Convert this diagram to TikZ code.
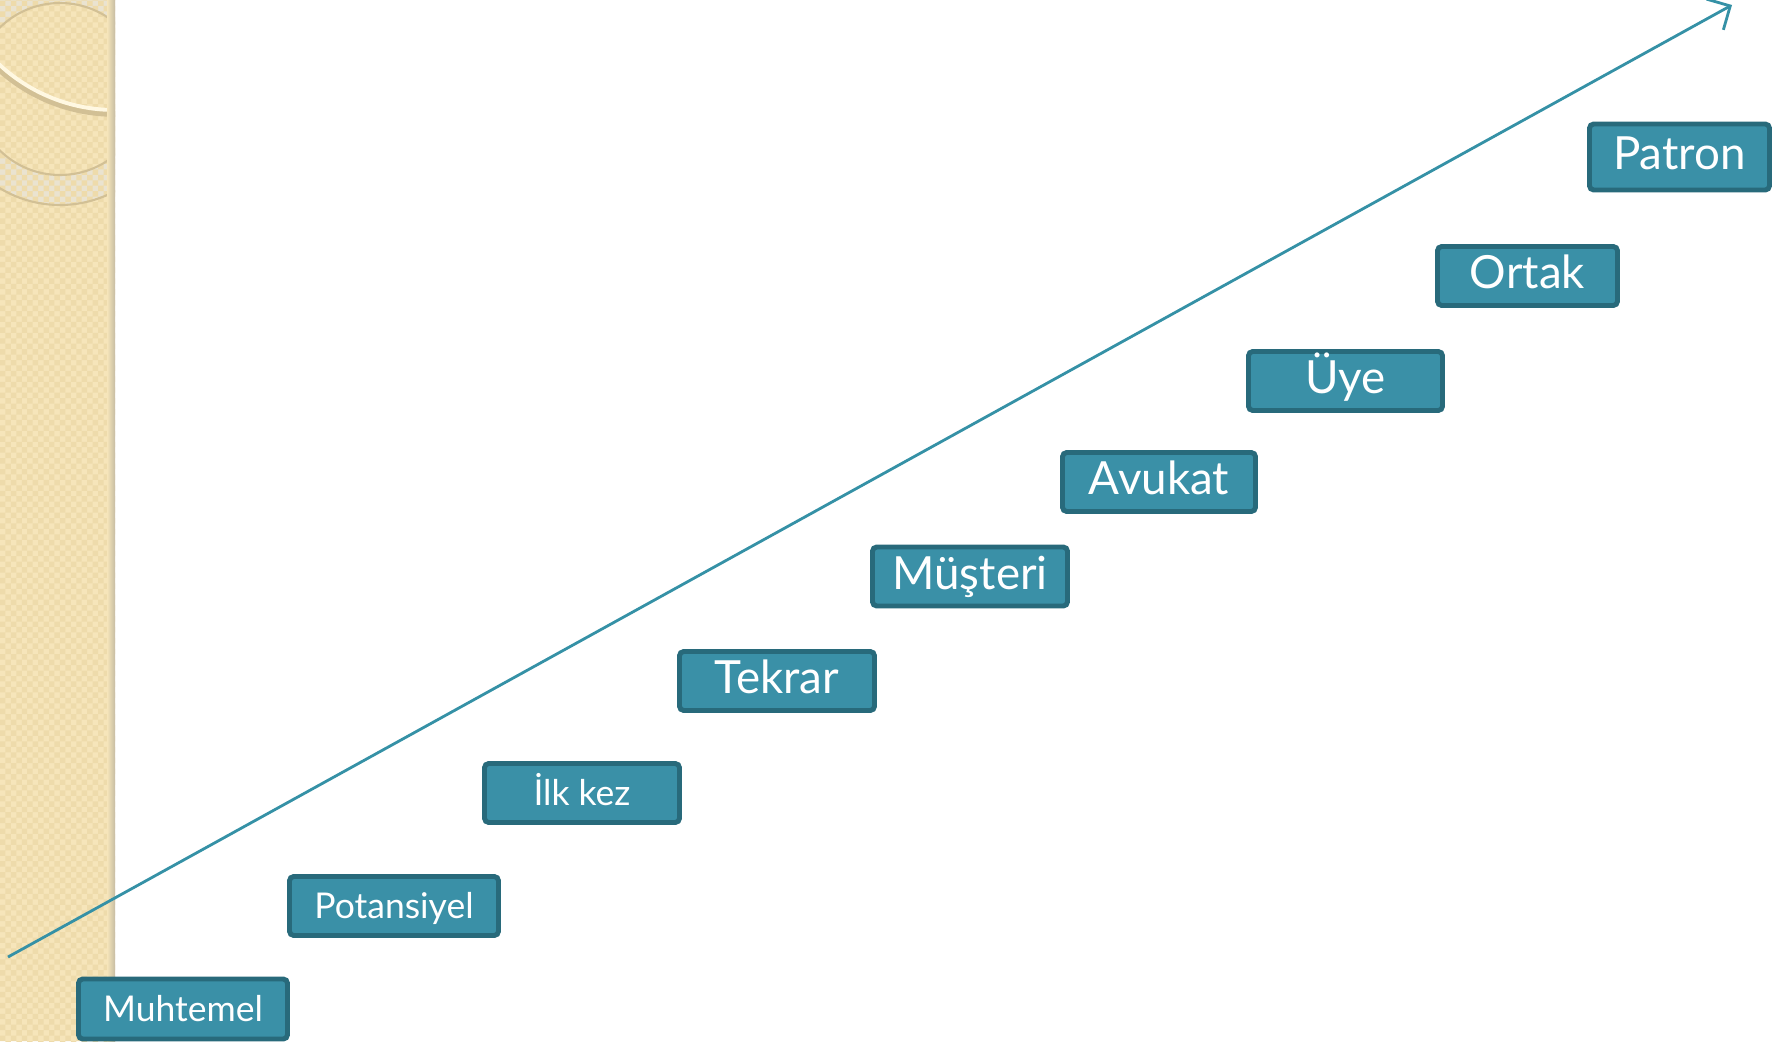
\documentclass[tikz,border=0pt]{standalone}
\usepackage{fontspec}
\setmainfont{Lato}
\usetikzlibrary{arrows.meta, patterns}

\definecolor{stagefill}{HTML}{3A90A7}
\definecolor{stageline}{HTML}{286A7B}
\definecolor{pathline}{HTML}{3591A6}
\definecolor{paper}{HTML}{F6E5BA}
\definecolor{paperdot}{HTML}{EEDBAB}
\definecolor{ringband}{HTML}{EAE3D0}
\definecolor{ringedge}{HTML}{D2C095}
\definecolor{glow}{HTML}{FFF8E2}

% fine checks for the side band
\pgfdeclarepatternformonly{finechecks}{\pgfqpoint{-0.1pt}{-0.1pt}}{\pgfqpoint{3.2pt}{3.2pt}}{\pgfqpoint{3.1pt}{3.1pt}}{
    \pgfpathrectangle{\pgfpointorigin}{\pgfqpoint{1.55pt}{1.55pt}}
    \pgfpathrectangle{\pgfqpoint{1.55pt}{1.55pt}}{\pgfqpoint{1.55pt}{1.55pt}}
    \pgfusepath{fill}
}

\begin{document}
\begin{tikzpicture}[
    stage/.style={draw=stageline, fill=stagefill, line width=1.4pt, rounded corners=1.2pt,
        text=white, inner sep=0pt, minimum height=0.59cm, text height=0.72em, text depth=0pt},
    small/.style={font=\fontsize{10.1}{12}\selectfont},
    big/.style={font=\fontsize{13}{15}\selectfont},
    growth/.style={draw=pathline, line width=0.8pt, -{Straight Barb[length=5pt, width=10pt]}}
]
    \useasboundingbox (0,0) rectangle (17.83,10.41);
    % side band
    \begin{scope}
        \clip (0,0) rectangle (1.15,10.41);
        \fill[paper] (0,0) rectangle (1.15,10.41);
        \fill[ringband] (0.60,9.52) circle (1.16);
        \fill[paper] (0.60,9.52) circle (0.86);
        \fill[pattern=finechecks, pattern color=paperdot] (0,0) rectangle (1.15,10.41);
        \draw[ringedge, line width=0.6pt] (0.60,9.52) circle (0.86);
        \draw[ringedge, line width=0.6pt] (0.60,9.52) circle (1.16);
        \draw[ringedge, line width=1.6pt] (1.15,11.00) circle (1.73);
        \draw[glow, line width=1.1pt] (1.15,11.01) circle (1.70);
        \shade[left color=paper, right color=paper!60!gray] (1.07,0) rectangle (1.15,10.41);
    \end{scope}
    % arrow
    \coordinate (start) at (0.08,0.84);
    \coordinate (tip) at (17.32,10.36);
    \draw[growth] (start) -- (tip);
    % stages
    \node[stage, small, minimum width=2.09cm, minimum height=0.60cm] (muhtemel) at (1.83,0.32) {Muhtemel};
    \node[stage, small, minimum width=2.09cm] (potansiyel) at (3.94,1.35) {Potansiyel};
    \node[stage, small, minimum width=1.95cm] (ilkkez) at (5.82,2.48) {İlk kez};
    \node[stage, big, minimum width=1.95cm] (tekrar) at (7.77,3.60) {Tekrar};
    \node[stage, big, minimum width=1.95cm] (musteri) at (9.70,4.645) {Müşteri};
    \node[stage, big, minimum width=1.93cm] (avukat) at (11.59,5.59) {Avukat};
    \node[stage, big, minimum width=1.94cm] (uye) at (13.455,6.60) {Üye};
    \node[stage, big, minimum width=1.80cm] (ortak) at (15.275,7.65) {Ortak};
    \node[stage, big, minimum width=1.80cm, minimum height=0.66cm] (patron) at (16.795,8.84) {Patron};
\end{tikzpicture}
\end{document}
